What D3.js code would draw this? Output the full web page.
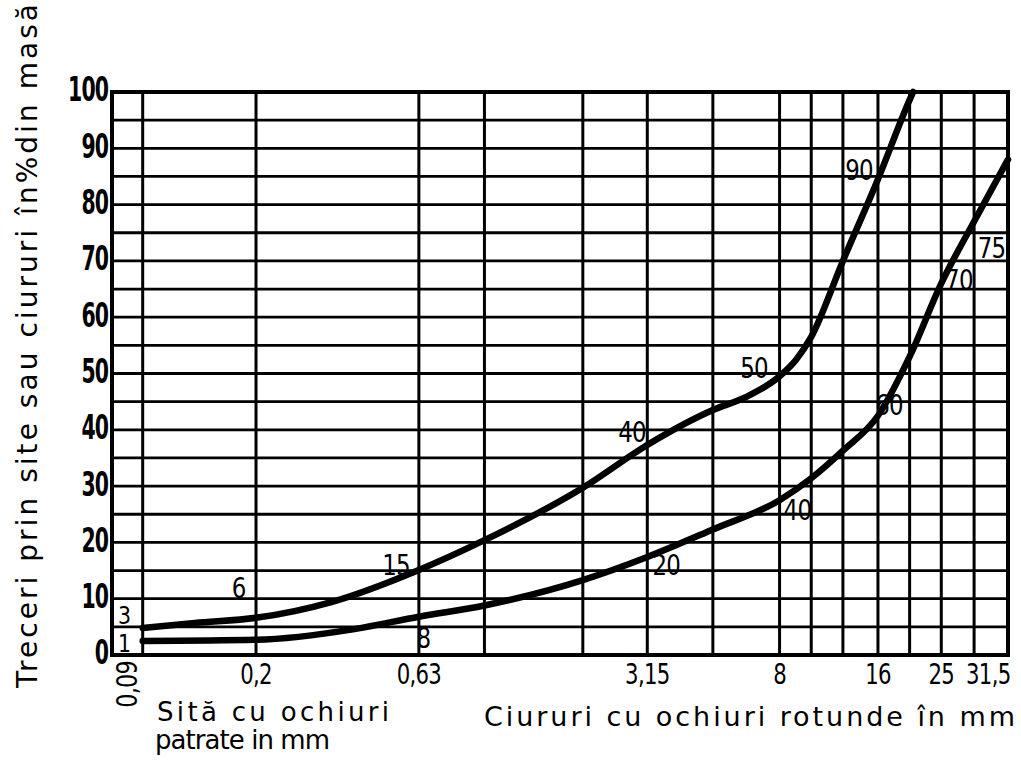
<!DOCTYPE html>
<html><head><meta charset="utf-8">
<script src="https://cdn.jsdelivr.net/npm/d3@7"></script>
<style>
html,body{margin:0;padding:0;background:#fff;}
svg{display:block;}
.num{font-family:'DejaVu Sans',sans-serif;}
.title{font-family:'DejaVu Sans','Noto Sans',sans-serif;}
</style></head>
<body>
<script>
// ---- data ----
const gridX = [0.09, 0.2, 0.63, 1, 2, 3.15, 5, 8, 10, 12.5, 16, 20, 25, 31.5, 40];
const tickXValues = [0.2, 0.63, 3.15, 8, 16, 25, 31.5];
const tickXLabels = ["0,2", "0,63", "3,15", "8", "16", "25", "31,5"];
const rotatedTickValue = 0.09;
const rotatedTickLabel = "0,09";
const tickYValues = [0, 10, 20, 30, 40, 50, 60, 70, 80, 90, 100];
const tickYLabels = ["0", "10", "20", "30", "40", "50", "60", "70", "80", "90", "100"];
const gridYStep = 5;

// upper curve (sieve mm, % passing)
const upperX = [0.09, 0.13, 0.2, 0.34, 0.63, 1, 2, 3.15, 5, 6.3, 8, 9, 10, 12.5, 16, 20, 20.5];
const upperY = [4.8, 5.7, 6.6, 9.4, 15.1, 20.4, 29.7, 37.3, 43.5, 45.8, 49.5, 52.5, 56.5, 70, 84.5, 98.6, 100];
// lower curve
const lowerX = [0.09, 0.2, 0.4, 0.63, 1, 2, 3.15, 5, 8, 10, 12.5, 16, 20, 25, 31.5, 40];
const lowerY = [2.5, 2.7, 4.6, 6.8, 8.8, 13.3, 17.4, 22.3, 27.5, 31.4, 36.3, 42.5, 53, 66, 77, 88];

// curve point labels
const labelText = ["3", "6", "15", "40", "50", "90", "1", "8", "20", "40", "60", "70", "75"];
const labelX = [0.079, 0.177, 0.536, 2.83, 6.68, 14.0, 0.079, 0.65, 3.6, 9.07, 17.3, 28.3, 35.6];
const labelY = [7.0, 11.9, 16, 39.6, 51, 86.1, 2.1, 3.0, 16, 25.8, 44.4, 66.6, 72.3];
const labelSize = [25, 28, 28, 28, 28, 28, 25, 28, 28, 28, 28, 28, 28];

const yTitle = "Treceri  prin  site  sau  ciururi  în%din masă";
const xTitleLeft1 = "Sită  cu  ochiuri";
const xTitleLeft2 = "patrate  in  mm";
const xTitleRight = "Ciururi  cu  ochiuri  rotunde  în mm";

// ---- drawing ----
const W = 1021, H = 763;
const svg = d3.select("body").append("svg").attr("width", W).attr("height", H);

const x = d3.scaleLog().domain([0.0725, 40]).range([112, 1008]);
const y = d3.scaleLinear().domain([0, 100]).range([655, 92]);

const g = svg.append("g");

// horizontal grid
g.selectAll("line.hg").data(d3.range(0, 100 + 0.001, gridYStep)).join("line")
  .attr("x1", x.range()[0]).attr("x2", x.range()[1])
  .attr("y1", d => y(d)).attr("y2", d => y(d))
  .attr("stroke", "#000").attr("stroke-width", 2.8);

// vertical grid
g.selectAll("line.vg").data(gridX).join("line")
  .attr("x1", d => x(d)).attr("x2", d => x(d))
  .attr("y1", y(0)).attr("y2", y(100))
  .attr("stroke", "#000").attr("stroke-width", 3);

// frame
g.append("rect")
  .attr("x", x.range()[0]).attr("y", y(100))
  .attr("width", x.range()[1] - x.range()[0]).attr("height", y(0) - y(100))
  .attr("fill", "none").attr("stroke", "#000").attr("stroke-width", 4);

// curves
const line = d3.line().x(d => x(d[0])).y(d => y(d[1])).curve(d3.curveMonotoneX);
[[upperX, upperY], [lowerX, lowerY]].forEach(([xs, ys]) => {
  g.append("path").datum(xs.map((v, i) => [v, ys[i]]))
    .attr("d", line).attr("fill", "none").attr("stroke", "#000")
    .attr("stroke-width", 6.5).attr("stroke-linecap", "round").attr("stroke-linejoin", "round");
});

// helper for condensed text
function ctext(parent, px, py, txt, opts) {
  const gg = parent.append("g").attr("transform", `translate(${px},${py})` + (opts.rotate ? ` rotate(${opts.rotate})` : ""));
  gg.append("text").attr("class", "num")
    .attr("transform", `scale(${opts.sx},1)`)
    .attr("text-anchor", opts.anchor || "middle")
    .attr("dominant-baseline", opts.baseline || "auto")
    .attr("font-size", opts.size)
    .attr("font-weight", opts.weight || "normal")
    .attr("letter-spacing", opts.ls || 0)
    .text(txt);
}

// curve labels
labelText.forEach((t, i) => {
  ctext(g, x(labelX[i]), y(labelY[i]), t, {size: labelSize[i], sx: 0.82, baseline: "central", ls: -1});
});

// y tick labels
tickYValues.forEach((v, i) => {
  ctext(g, x.range()[0] - 4, y(v) - 2, tickYLabels[i], {size: 33, sx: 0.62, anchor: "end", baseline: "central", weight: "bold", ls: -1.5});
});

// x tick labels
tickXValues.forEach((v, i) => {
  const last = i === tickXValues.length - 1;
  ctext(g, last ? x(v) - 8 : x(v), 684, tickXLabels[i], {size: 28, sx: 0.76, anchor: last ? "start" : "middle", ls: -1});
});

// rotated 0,09 label
ctext(g, x(rotatedTickValue) - 6, 661, rotatedTickLabel, {size: 28, sx: 0.8, anchor: "end", rotate: -90, ls: -1});

// titles
svg.append("text").attr("class", "title")
  .attr("transform", "translate(37,346) rotate(-90)")
  .attr("text-anchor", "middle").attr("font-size", 28)
  .attr("textLength", 684).attr("lengthAdjust", "spacing")
  .text(yTitle);

svg.append("text").attr("class", "title")
  .attr("x", 157).attr("y", 721).attr("font-size", 26)
  .attr("textLength", 232).attr("lengthAdjust", "spacing")
  .text(xTitleLeft1);
svg.append("text").attr("class", "title")
  .attr("x", 155).attr("y", 749).attr("font-size", 26)
  .attr("textLength", 175).attr("lengthAdjust", "spacing")
  .text(xTitleLeft2);
svg.append("text").attr("class", "title")
  .attr("x", 484).attr("y", 726).attr("font-size", 27)
  .attr("textLength", 531).attr("lengthAdjust", "spacing")
  .text(xTitleRight);
</script>
</body></html>
